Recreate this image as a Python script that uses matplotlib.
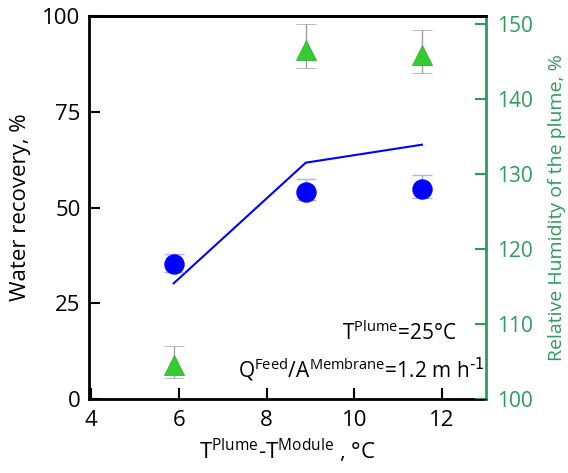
import numpy as np
import matplotlib.pyplot as plt

plt.rcParams['font.family'] = ['Open Sans', 'DejaVu Sans']
plt.rcParams['mathtext.default'] = 'regular'

# data
delta_t = [5.88, 8.89, 11.54]
recovery = [35.3, 54.1, 54.8]
recovery_err_low = [2.2, 2.2, 2.2]
recovery_err_high = [2.6, 3.3, 3.7]
recovery_model = [30.2, 61.7, 66.4]
humidity = [104.5, 146.6, 145.9]
humidity_err_low = [1.7, 2.4, 2.4]
humidity_err_high = [2.6, 3.4, 3.3]

x_ticks = [4, 6, 8, 10, 12]
left_ticks = [0, 25, 50, 75, 100]
right_ticks = [100, 110, 120, 130, 140, 150]

green = '#2e9b5e'

fig = plt.figure(figsize=(5.68, 4.73), dpi=100)
ax = fig.add_axes([0.1567, 0.1564, 0.699, 0.8098])
ax2 = ax.twinx()

ax.errorbar(delta_t, recovery, yerr=[recovery_err_low, recovery_err_high], fmt='o',
            color='#0000ff', ms=13.7, ecolor='#b0b0ff', elinewidth=1, capsize=7,
            capthick=1, zorder=3)
ax.plot(delta_t, recovery_model, color='#0000ff', lw=1.5, zorder=2)

ax2.errorbar(delta_t, humidity, yerr=[humidity_err_low, humidity_err_high], fmt='^',
             color='#33cc33', mec='#22aa22', mew=0.5, ms=14.5, ecolor='#a0a0a0',
             elinewidth=1, capsize=7, capthick=1)

ax.set_xlim(3.95, 13)
ax.set_ylim(0, 100)
ax2.set_ylim(100, 151.07)
ax.set_xticks(x_ticks)
ax.set_yticks(left_ticks)
ax2.set_yticks(right_ticks)

ax.tick_params(direction='in', length=8, width=1.5, labelsize=16, top=False, pad=8)
ax.tick_params(axis='y', pad=6)
ax2.tick_params(direction='in', length=8, width=1.5, labelsize=15, colors=green, pad=8)

for s in ['left', 'bottom', 'top']:
    ax.spines[s].set_linewidth(2)
ax2.spines['right'].set_color(green)
ax2.spines['right'].set_linewidth(2)
ax2.spines['left'].set_visible(False)
ax2.spines['top'].set_linewidth(2)
ax.spines['right'].set_visible(False)

ax.set_xlabel('T$^{Plume}$-T$^{Module}$ , °C', fontsize=16, labelpad=4)
ax.set_ylabel('Water recovery, %', fontsize=16, labelpad=8)
ax2.set_ylabel('Relative Humidity of the plume, %', fontsize=14, color=green, labelpad=11)

ax.text(0.927, 0.172, 'T$^{Plume}$=25°C', transform=ax.transAxes,
        ha='right', va='center', fontsize=15)
ax.text(0.995, 0.076, r'Q$^{Feed}$/A$^{Membrane}$=1.2 m h$^{\text{-1}}$',
        transform=ax.transAxes, ha='right', va='center', fontsize=15)

fig.savefig('out.png', dpi=100)
